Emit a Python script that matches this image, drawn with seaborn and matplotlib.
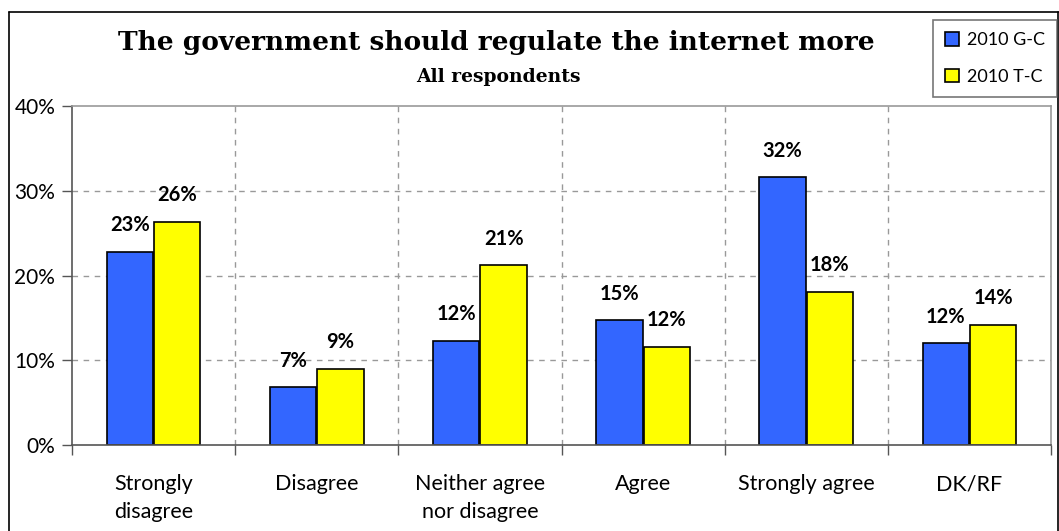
import pandas as pd
import seaborn as sns
import matplotlib.pyplot as plt
from matplotlib.lines import Line2D
from matplotlib.ticker import FixedLocator, PercentFormatter

#%% data
categories = ['Strongly\ndisagree', 'Disagree', 'Neither agree\nnor disagree',
              'Agree', 'Strongly agree', 'DK/RF']
gc_2010 = [22.8, 6.8, 12.3, 14.7, 31.6, 12.0]
tc_2010 = [26.3, 9.0, 21.2, 11.6, 18.1, 14.2]
gc_labels = ['23%', '7%', '12%', '15%', '32%', '12%']
tc_labels = ['26%', '9%', '21%', '12%', '18%', '14%']
series = ['2010 G-C', '2010 T-C']

df = pd.DataFrame({
    'Category': categories * 2,
    'Value': gc_2010 + tc_2010,
    'Series': [series[0]] * len(categories) + [series[1]] * len(categories),
})

#%% plot
sns.set_style('white')
plt.rcParams['font.family'] = ['Lato', 'DejaVu Sans']
for key in ['text.color', 'axes.labelcolor', 'xtick.labelcolor', 'ytick.labelcolor']:
    plt.rcParams[key] = 'black'

W, H = 1059, 531
fig = plt.figure(figsize=(W / 100, H / 100), dpi=100)
ax = fig.add_axes([72 / W, 1 - 445 / H, (1051 - 72) / W, (445 - 106) / H])

sns.barplot(data=df, x='Category', y='Value', hue='Series', order=categories,
            palette=['#3366FF', '#FFFF00'], width=0.58, gap=0.02,
            edgecolor='black', linewidth=1.2, saturation=1, ax=ax, legend=True)

for cont, labs in zip(ax.containers, [gc_labels, tc_labels]):
    ax.bar_label(cont, labels=labs, padding=12, fontsize=14.5, fontweight='bold', color='black')

ax.set_ylim(0, 40)
ax.set_xlim(-0.5, len(categories) - 0.5)
ax.set_yticks([0, 10, 20, 30, 40])
ax.yaxis.set_major_formatter(PercentFormatter(decimals=0))
ax.set_xlabel('')
ax.set_ylabel('')

# grid: dashed horizontal lines and dashed category dividers
for y in [10, 20, 30]:
    ax.axhline(y, color='#999999', linestyle=(0, (4, 4)), linewidth=1, zorder=0)
for x in [0.5, 1.5, 2.5, 3.5, 4.5]:
    ax.axvline(x, color='#999999', linestyle=(0, (4, 4)), linewidth=1, zorder=0)

ax.xaxis.set_minor_locator(FixedLocator([-0.5, 0.5, 1.5, 2.5, 3.5, 4.5, 5.5]))
ax.tick_params(axis='x', which='major', length=0, pad=21, labelsize=15.5, labelcolor='black')
ax.tick_params(axis='x', which='minor', length=7, width=1, color='#555555', bottom=True)
ax.tick_params(axis='y', length=7, width=1, color='#555555', left=True, labelsize=15, pad=5,
               labelcolor='black')
for lab in ax.get_xticklabels():
    lab.set_linespacing(1.5)

for side in ['left', 'bottom']:
    ax.spines[side].set_color('#555555')
    ax.spines[side].set_linewidth(1.2)
for side in ['top', 'right']:
    ax.spines[side].set_color('#999999')
    ax.spines[side].set_linewidth(1.2)

# legend outside the plot area, top right
handles, labels = ax.get_legend_handles_labels()
ax.get_legend().remove()
leg = fig.legend(handles, labels, loc='upper left', bbox_to_anchor=(933 / W, 1 - 20 / H),
                 frameon=True, fancybox=False, edgecolor='#555555', fontsize=13,
                 handlelength=0.8, handleheight=0.8, handletextpad=0.45,
                 labelspacing=1.15, borderpad=0.65, borderaxespad=0)
leg.get_frame().set_linewidth(1.2)

# titles
fig.text(496 / W, 1 - 50 / H, 'The government should regulate the internet more',
         ha='center', va='baseline', fontsize=19, fontweight='bold', family='DejaVu Serif',
         color='black')
fig.text(498 / W, 1 - 82 / H, 'All respondents', ha='center', va='baseline',
         fontsize=13.5, fontweight='bold', family='DejaVu Serif', color='black')

# outer chart frame
fig.add_artist(Line2D([9 / W, 9 / W], [0, 1 - 12 / H], color='black', linewidth=1.2))
fig.add_artist(Line2D([9 / W, 1], [1 - 12 / H, 1 - 12 / H], color='black', linewidth=1.2))
fig.add_artist(Line2D([1058 / W, 1058 / W], [0, 1 - 12 / H], color='black', linewidth=1.2))

fig.savefig('out.png', dpi=100)
